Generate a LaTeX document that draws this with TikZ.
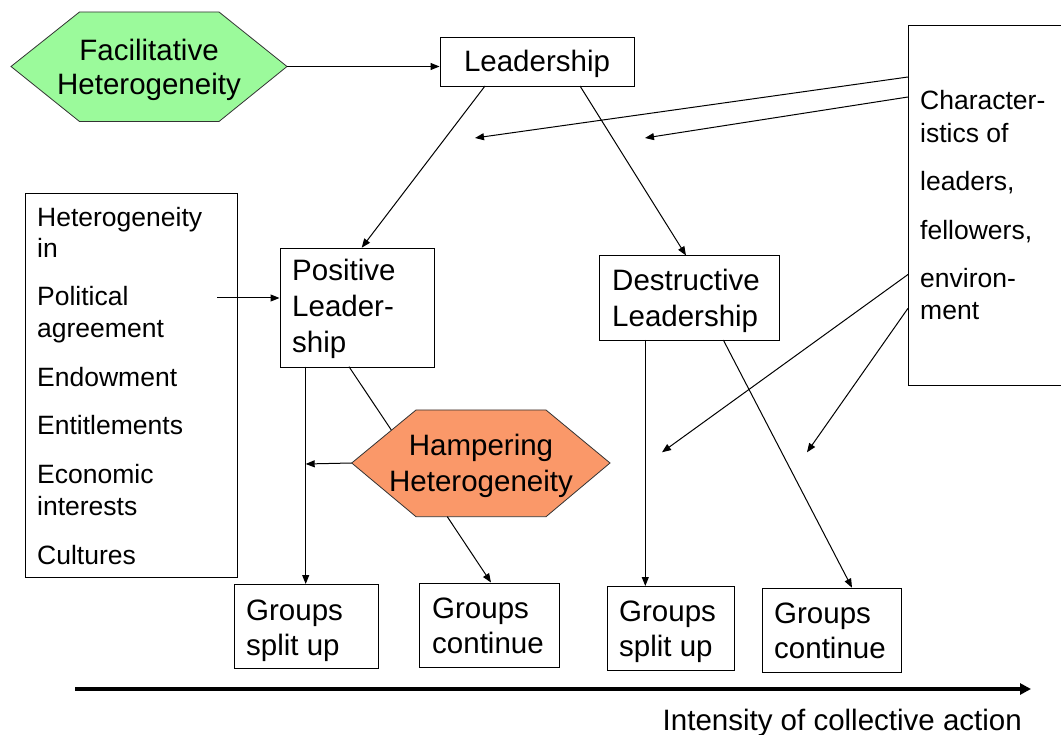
\documentclass[tikz,border=0pt]{standalone}
\usepackage{fontspec}
\setmainfont{Liberation Sans}
\usetikzlibrary{arrows.meta}
\definecolor{facgreen}{RGB}{155,250,155}
\definecolor{hamporange}{RGB}{250,152,105}
\begin{document}
\begin{tikzpicture}[x=1pt,y=-1pt,
  box/.style={draw, line width=0.9pt, inner sep=0pt, fill=white},
  big/.style={font=\fontsize{29.5}{35}\selectfont, inner sep=0pt},
  small/.style={font=\fontsize{26.5}{32}\selectfont, inner sep=0pt},
  conn/.style={line width=1pt},
  arr/.style={line width=1pt, -{Triangle[length=9pt,width=7pt]}},
  hexa/.style={draw=black!80, line width=0.8pt}]
\useasboundingbox (0,0) rectangle (1061,735);

% ---------- Facilitative Heterogeneity hexagon ----------
\coordinate (fL) at (11,66.5);
\coordinate (fTL) at (79.5,12);
\coordinate (fTR) at (219,12);
\coordinate (fR) at (287,66.5);
\coordinate (fBR) at (219,121.5);
\coordinate (fBL) at (79.5,121.5);
\draw[hexa, fill=facgreen] (fL) -- (fTL) -- (fTR) -- (fR) -- (fBR) -- (fBL) -- cycle;
\node[big, anchor=base] (fac1) at (149,60.5) {Facilitative};
\node[big, anchor=base] (fac2) at (149,95) {Heterogeneity};

% ---------- Leadership ----------
\node[box, minimum width=194pt, minimum height=49pt] (lead) at (537,61.5) {};
\node[big, anchor=base] (leadt) at (537,72) {Leadership};

% ---------- Characteristics box ----------
\node[box, anchor=north west, minimum width=170pt, minimum height=360.5pt] (chr) at (908,25) {};
\node[small, anchor=base west] (c1) at (920,110) {Character-};
\node[small, anchor=base west] (c2) at (920,143) {istics of};
\node[small, anchor=base west] (c3) at (920,191) {leaders,};
\node[small, anchor=base west] (c4) at (920,240) {fellowers,};
\node[small, anchor=base west] (c5) at (920,288) {environ-};
\node[small, anchor=base west] (c6) at (920,320) {ment};

% ---------- Heterogeneity in box ----------
\node[box, anchor=north west, minimum width=211.5pt, minimum height=384pt] (het) at (25,192.7) {};
\node[small, anchor=base west] (h1) at (37,227) {Heterogeneity};
\node[small, anchor=base west] (h2) at (37,258) {in};
\node[small, anchor=base west] (h3) at (37,306) {Political};
\node[small, anchor=base west] (h4) at (37,337.5) {agreement};
\node[small, anchor=base west] (h5) at (37,386.5) {Endowment};
\node[small, anchor=base west] (h6) at (37,435) {Entitlements};
\node[small, anchor=base west] (h7) at (37,483.5) {Economic};
\node[small, anchor=base west] (h8) at (37,515) {interests};
\node[small, anchor=base west] (h9) at (37,564.5) {Cultures};

% ---------- Positive Leadership ----------
\node[box, anchor=north west, minimum width=154pt, minimum height=119pt] (pos) at (279.5,247.7) {};
\node[big, anchor=base west] (p1) at (292,280.7) {Positive};
\node[big, anchor=base west] (p2) at (292,317) {Leader-};
\node[big, anchor=base west] (p3) at (292,353) {ship};

% ---------- Destructive Leadership ----------
\node[box, anchor=north west, minimum width=179.5pt, minimum height=84.5pt] (des) at (599.3,255.5) {};
\node[big, anchor=base west] (d1) at (612,290.7) {Destructive};
\node[big, anchor=base west] (d2) at (612,327) {Leadership};

% ---------- Hampering Heterogeneity hexagon ----------
\coordinate (hL) at (351.7,463);
\coordinate (hTL) at (416,410);
\coordinate (hTR) at (546,410);
\coordinate (hR) at (610,463);
\coordinate (hBR) at (546,516.7);
\coordinate (hBL) at (416,516.7);
\draw[hexa, fill=hamporange] (hL) -- (hTL) -- (hTR) -- (hR) -- (hBR) -- (hBL) -- cycle;
\node[big, anchor=base] (ham1) at (481,456) {Hampering};
\node[big, anchor=base] (ham2) at (481,491.7) {Heterogeneity};

% ---------- Groups boxes ----------
\node[box, anchor=north west, minimum width=144pt, minimum height=84pt] (gs1) at (234,584) {};
\node[big, anchor=base west] (gs1a) at (246,620.5) {Groups};
\node[big, anchor=base west] (gs1b) at (246,655) {split up};
\node[box, anchor=north west, minimum width=140pt, minimum height=84pt] (gc1) at (419,582.5) {};
\node[big, anchor=base west] (gc1a) at (432,618) {Groups};
\node[big, anchor=base west] (gc1b) at (432,653) {continue};
\node[box, anchor=north west, minimum width=127pt, minimum height=84pt] (gs2) at (607,586) {};
\node[big, anchor=base west] (gs2a) at (619,621.5) {Groups};
\node[big, anchor=base west] (gs2b) at (619,656.5) {split up};
\node[box, anchor=north west, minimum width=139pt, minimum height=84pt] (gc2) at (762,587.7) {};
\node[big, anchor=base west] (gc2a) at (774,623) {Groups};
\node[big, anchor=base west] (gc2b) at (774,658) {continue};

% ---------- connector end points ----------
\coordinate (leadA) at (485,86);
\coordinate (leadB) at (580,86);
\coordinate (posTop) at (361.7,247.7);
\coordinate (desTop) at (686,255.5);
\coordinate (chrA) at (908,77);
\coordinate (chrB) at (908,97);
\coordinate (chrC) at (908,274.5);
\coordinate (chrD) at (908,308.3);
\coordinate (tipA) at (475,138);
\coordinate (tipB) at (645,138);
\coordinate (tipC) at (662,452.3);
\coordinate (tipD) at (807,452.3);
\coordinate (hetOut) at (217,298);
\coordinate (posIn) at (279.5,298);
\coordinate (posB1) at (305.7,366.7);
\coordinate (gs1Top) at (305.7,584);
\coordinate (posB2) at (349,366.7);
\coordinate (hamEdge) at (391.3,430);
\coordinate (hamOut) at (305.7,464);
\coordinate (hamB) at (447.3,516.7);
\coordinate (gc1Top) at (491,582.5);
\coordinate (desB1) at (645.3,340);
\coordinate (gs2Top) at (645.3,586);
\coordinate (desB2) at (723.3,340);
\coordinate (gc2Top) at (852,587.7);

% ---------- connectors ----------
\draw[arr] (fR) -- (lead.west |- fR);
\draw[arr] (leadA) -- (posTop);
\draw[arr] (leadB) -- (desTop);
\draw[arr] (chrA) -- (tipA);
\draw[arr] (chrB) -- (tipB);
\draw[arr] (chrC) -- (tipC);
\draw[arr] (chrD) -- (tipD);
\draw[arr] (hetOut) -- (posIn);
\draw[arr] (posB1) -- (gs1Top);
\draw[conn] (posB2) -- (hamEdge);
\draw[arr] (hL) -- (hamOut);
\draw[arr] (hamB) -- (gc1Top);
\draw[arr] (desB1) -- (gs2Top);
\draw[arr] (desB2) -- (gc2Top);

% ---------- axis ----------
\coordinate (axS) at (75,689);
\coordinate (axE) at (1031,689);
\draw[line width=4.5pt, -{Triangle[length=11pt,width=11pt]}] (axS) -- (axE);
\node[big, anchor=base east] (axlab) at (1022,730) {Intensity of collective action};
\end{tikzpicture}
\end{document}
